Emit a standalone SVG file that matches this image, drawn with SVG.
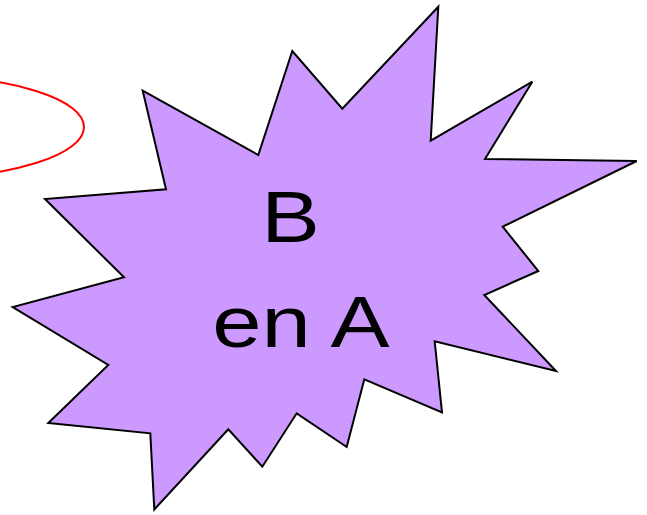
<svg xmlns="http://www.w3.org/2000/svg" width="647" height="515" viewBox="0 0 647 515">
  <style>
    .lbl { font-family: "Liberation Sans", Arial, sans-serif; font-size: 72px; fill: #000; text-anchor: middle; }
  </style>
  <rect width="647" height="515" fill="#fff"/>
  <g id="ellipse">
    <ellipse cx="-80" cy="127" rx="164" ry="51" fill="none" stroke="#ff0000" stroke-width="2"/>
  </g>
  <g id="star">
    <polygon points="142.7,90.7 258.3,155 292.3,51 342.3,108.7 438.3,6.7 430.7,140.7 532.3,81.7 485,159 636.7,161 502.7,226.7 538.3,271 484.3,295 556,371 434.7,341.3 442,412.3 364.3,379.3 346.7,447 296.7,413.3 262.3,466.7 228.3,429.3 154.3,509.5 150.3,433.3 48.3,423 108.3,365 12.7,307 124,277.3 45,199 166,189.3" fill="#cc99ff" stroke="#000" stroke-width="2" stroke-linejoin="miter"/>
    <g transform="translate(290.5,0) scale(1.22,1)">
      <text class="lbl" x="0" y="242.5">B</text>
    </g>
    <g transform="translate(301,0) scale(1.23,1)">
      <text class="lbl" x="0" y="347">en A</text>
    </g>
  </g>
</svg>
